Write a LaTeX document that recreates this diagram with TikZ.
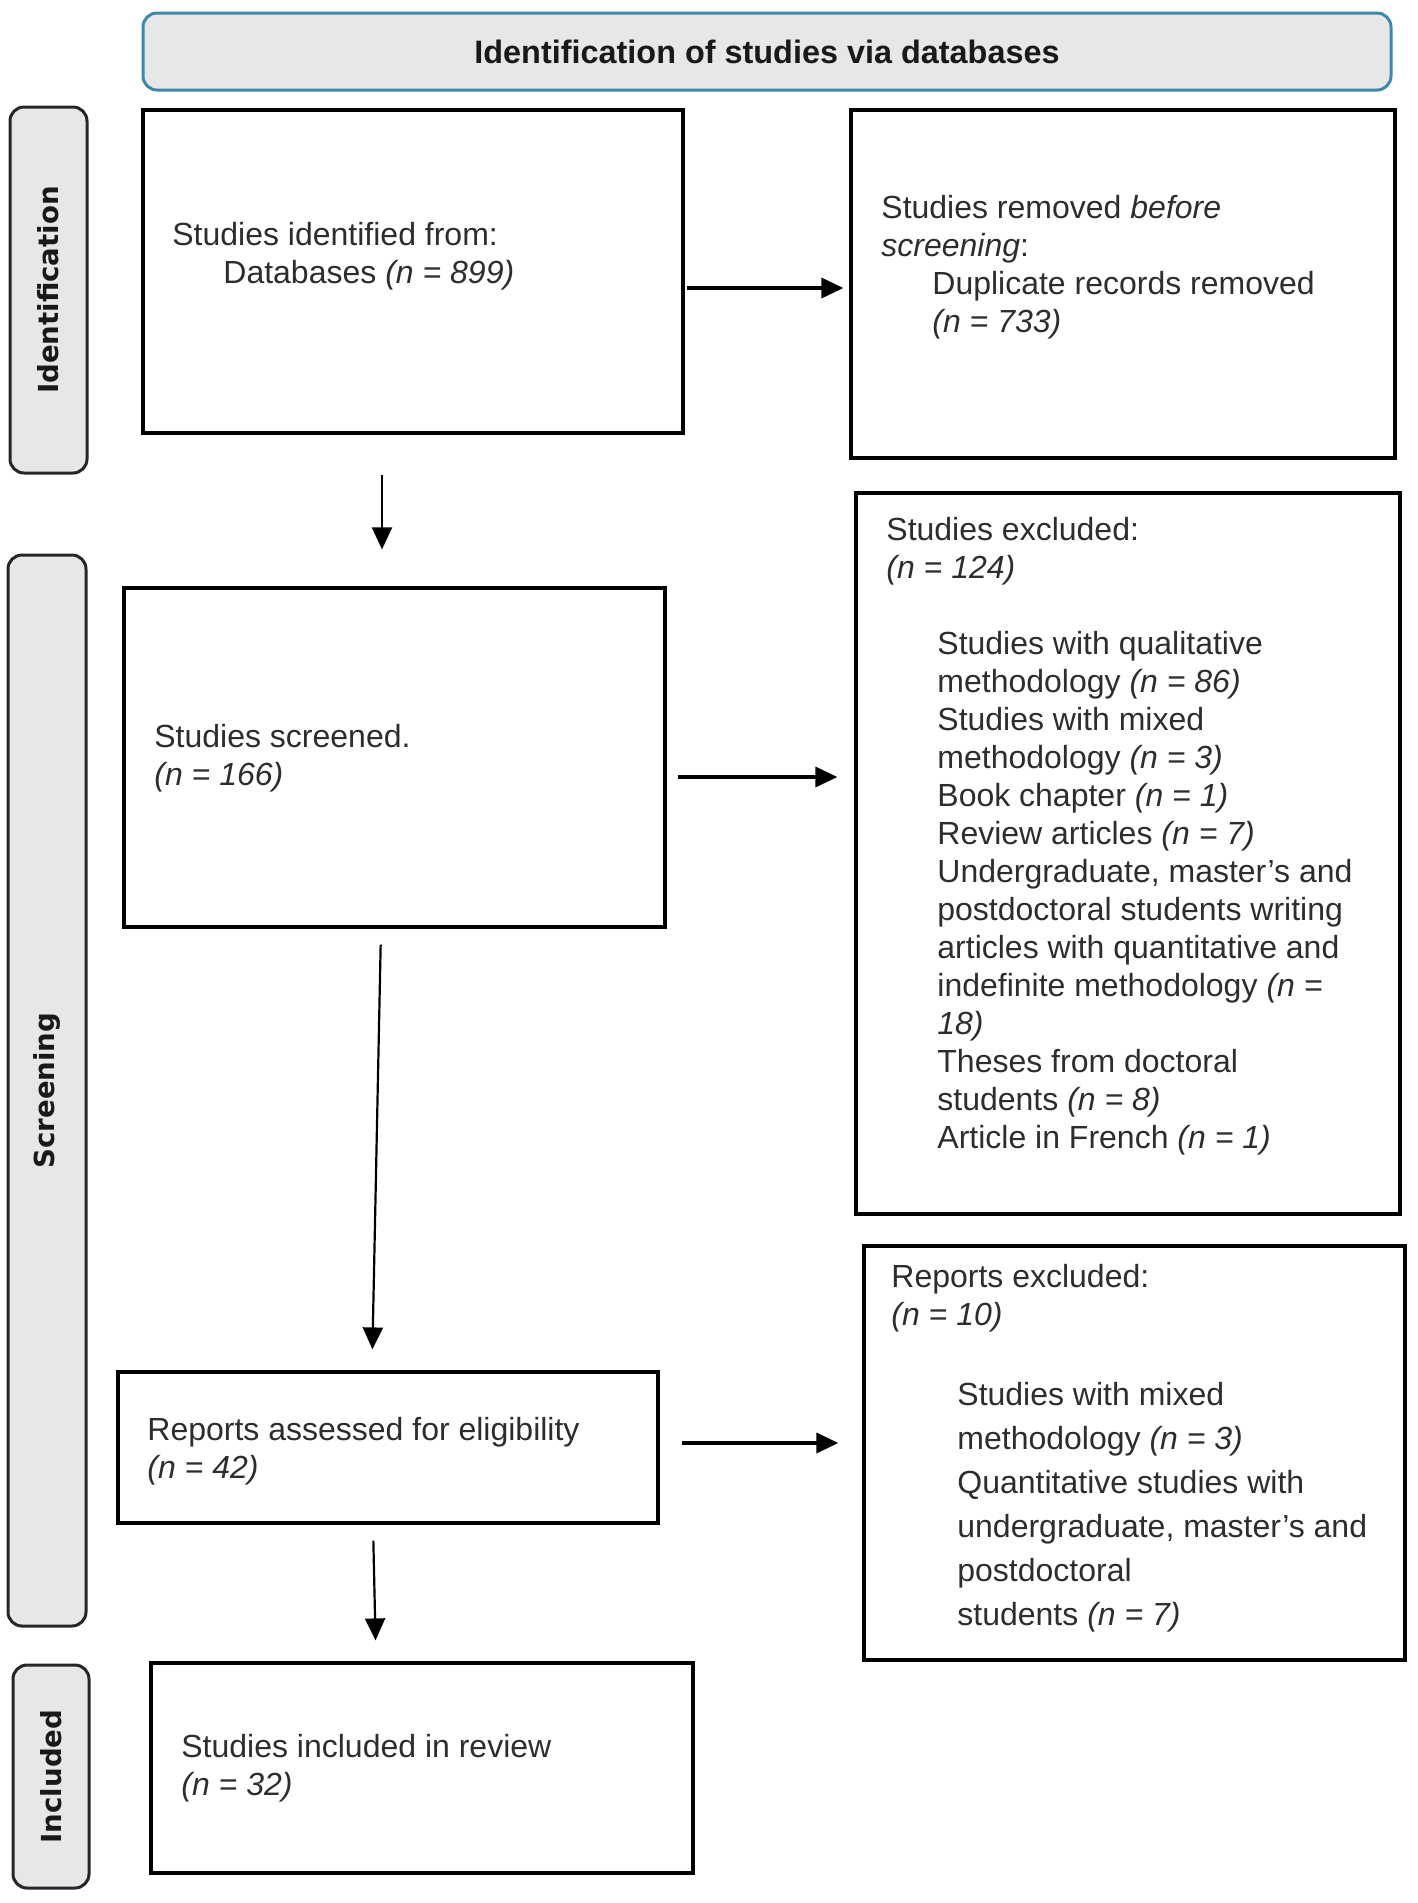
\documentclass[tikz,border=0pt]{standalone}
\usepackage{fontspec}
\setmainfont{Liberation Sans}
\newfontfamily\sidefont{DejaVu Sans}
\usetikzlibrary{arrows.meta}
\definecolor{headblue}{RGB}{62,136,168}
\definecolor{panelgray}{RGB}{231,231,231}
\definecolor{txtgray}{RGB}{45,45,45}
\newcommand{\listind}{\hspace*{25.5pt}}
\newcommand{\repind}{\hspace*{33pt}}

\begin{document}
\begin{tikzpicture}
  [x=0.5pt, y=-0.5pt,
   box/.style={draw=black, line width=1.6pt, inner sep=0pt},
   txt/.style={anchor=west, align=left, inner sep=0pt, text=txtgray,
               font=\fontsize{16}{19}\selectfont},
   header/.style={draw=headblue, line width=1.5pt, fill=panelgray, rounded corners=7pt,
                  minimum width=624pt, minimum height=38.5pt, text=black!90,
                  font=\fontsize{16.2}{19}\selectfont\bfseries},
   phase/.style={draw=black!85, line width=1.5pt, fill=panelgray, rounded corners=7pt,
                 rotate=90, inner sep=0pt, text=black!90,
                 font=\sidefont\fontsize{13.8}{16}\selectfont\bfseries},
   arr/.style={-{Triangle[length=11pt,width=10pt]}, line width=1.1pt},
   sidearr/.style={arr, line width=1.7pt}]
  \useasboundingbox (0,0) rectangle (1418,1903);

  % header and phase labels
  \node[header] (title) at (767,51.5) {Identification of studies via databases};
  \node[phase, minimum width=183pt, minimum height=38.5pt] (phaseid) at (48.5,290) {Identification};
  \node[phase, minimum width=535.5pt, minimum height=39pt] (phasescr) at (47,1090.5) {Screening};
  \node[phase, minimum width=111.5pt, minimum height=38pt] (phaseinc) at (51,1776.5) {Included};

  % boxes
  \node[box, minimum width=270pt, minimum height=161.5pt] (ident) at (413,271.5) {};
  \node[box, minimum width=272pt, minimum height=174pt] (removed) at (1123,284) {};
  \node[box, minimum width=270.5pt, minimum height=169.5pt] (screened) at (394.5,757.5) {};
  \node[box, minimum width=272pt, minimum height=360.5pt] (excluded) at (1128,853.5) {};
  \node[box, minimum width=270pt, minimum height=75.5pt] (assessed) at (388,1447.5) {};
  \node[box, minimum width=270.5pt, minimum height=207pt] (repexcl) at (1134.5,1453) {};
  \node[box, minimum width=271pt, minimum height=105pt] (included) at (422,1768) {};

  % texts
  \node[txt] (identtxt) at (172,256) {Studies identified from:\\
    \listind Databases \textit{(n = 899)}};
  \node[txt] (removedtxt) at (881,267) {Studies removed \textit{before}\\
    \textit{screening}:\\
    \listind Duplicate records removed\\
    \listind \textit{(n = 733)}};
  \node[txt] (screenedtxt) at (154,758) {Studies screened.\\
    \textit{(n = 166)}};
  \node[txt] (excludedtxt) at (886,836) {Studies excluded:\\
    \textit{(n = 124)}\\[19pt]
    \listind Studies with qualitative\\
    \listind methodology \textit{(n = 86)}\\
    \listind Studies with mixed\\
    \listind methodology \textit{(n = 3)}\\
    \listind Book chapter \textit{(n = 1)}\\
    \listind Review articles \textit{(n = 7)}\\
    \listind Undergraduate, master's and\\
    \listind postdoctoral students writing\\
    \listind articles with quantitative and\\
    \listind indefinite methodology \textit{(n =}\\
    \listind \textit{18)}\\
    \listind Theses from doctoral\\
    \listind students \textit{(n = 8)}\\
    \listind Article in French \textit{(n = 1)}};
  \node[txt] (assessedtxt) at (147,1451) {Reports assessed for eligibility\\
    \textit{(n = 42)}};
  \node[txt] (repexcltxt) at (891,1448) {Reports excluded:\\
    \textit{(n = 10)}\\[21pt]
    \repind Studies with mixed\\[3pt]
    \repind methodology \textit{(n = 3)}\\[3pt]
    \repind Quantitative studies with\\[3pt]
    \repind undergraduate, master's and\\[3pt]
    \repind postdoctoral\\[3pt]
    \repind students \textit{(n = 7)}};
  \node[txt] (includedtxt) at (181,1768) {Studies included in review\\
    \textit{(n = 32)}};

  % arrows
  \draw[arr, shorten <=20pt, shorten >=18.5pt] ([xshift=-15.5pt]ident.south) -- ([xshift=-15.5pt]ident.south |- screened.north);
  \draw[arr, shorten <=8pt, shorten >=10.5pt] ([xshift=-6.75pt]screened.south) -- ([xshift=-8pt]assessed.north);
  \draw[arr, shorten <=8pt, shorten >=10.5pt] ([xshift=-7.5pt]assessed.south) -- ([xshift=-23pt]included.north);
  \draw[sidearr, shorten <=1pt, shorten >=3pt] ([yshift=-8.25pt]ident.east) -- ([yshift=-8.25pt]ident.east -| removed.west);
  \draw[sidearr, shorten <=5.5pt, shorten >=8.5pt] ([yshift=-9.75pt]screened.east) -- ([yshift=-9.75pt]screened.east -| excluded.west);
  \draw[sidearr, shorten <=11pt, shorten >=12pt] ([yshift=2.25pt]assessed.east) -- ([yshift=2.25pt]assessed.east -| repexcl.west);
\end{tikzpicture}
\end{document}
